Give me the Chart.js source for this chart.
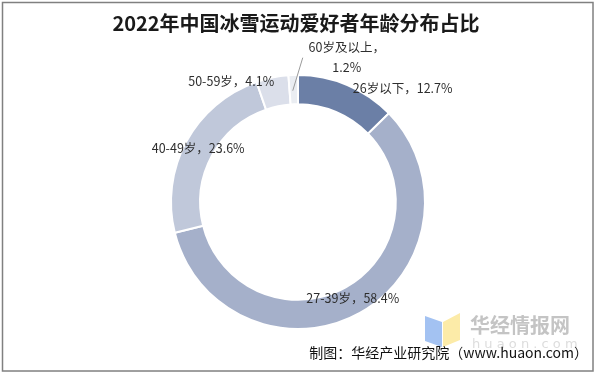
<!DOCTYPE html>
<html>
<head>
<meta charset="utf-8">
<script src="https://cdn.jsdelivr.net/npm/chart.js@4"></script>
<style>
html,body{margin:0;padding:0;background:#fff;}
#wrap{position:relative;width:595px;height:375px;}
</style>
</head>
<body>
<div id="wrap"><canvas id="c" width="595" height="375"></canvas></div>
<script>
const categories = ['26岁以下', '27-39岁', '40-49岁', '50-59岁', '60岁及以上'];
const shares = [12.7, 58.4, 23.6, 4.1, 1.2];
const colors = ['#6B7FA6', '#A5B0CA', '#C0C8DA', '#DBDFEA', '#EAEDF2'];
const titleText = '2022年中国冰雪运动爱好者年龄分布占比';
const sourceText = '制图：华经产业研究院（www.huaon.com）';

// label placement tweaks (pixel nudges from the default in-ring anchor)
const labelNudge = [[61, -10], [0, -2], [-1, 0], [-44, -11], [53, -32]];

const decor = {
  id: 'decor',
  afterDraw(chart) {
    const ctx = chart.ctx;
    const meta = chart.getDatasetMeta(0);
    ctx.save();
    // frame
    ctx.strokeStyle = '#808080';
    ctx.lineWidth = 1.5;
    ctx.strokeRect(2.5, 2.5, 590.5, 368.5);

    // title
    ctx.fillStyle = '#1a1a1a';
    ctx.textAlign = 'center';
    ctx.textBaseline = 'middle';
    ctx.font = 'bold 20px "Noto Sans CJK SC", sans-serif';
    ctx.fillText(titleText, 296, 23);

    // data labels
    ctx.font = '12.5px "Noto Sans CJK SC", sans-serif';
    ctx.fillStyle = '#2e2e2e';
    meta.data.forEach((arc, i) => {
      const p = arc.getProps(['x', 'y', 'startAngle', 'endAngle', 'innerRadius', 'outerRadius'], true);
      const mid = (p.startAngle + p.endAngle) / 2;
      const r = (p.innerRadius + p.outerRadius) / 2;
      const ax = p.x + Math.cos(mid) * r;
      const ay = p.y + Math.sin(mid) * r;
      const tx = ax + labelNudge[i][0];
      const ty = ay + labelNudge[i][1];
      const val = shares[i].toFixed(1) + '%';
      if (i === 4) {
        ctx.fillText(categories[i] + '，', tx, ty - 10);
        ctx.fillText(val, tx, ty + 10);
        // leader line
        ctx.strokeStyle = '#9a9a9a';
        ctx.lineWidth = 1;
        ctx.beginPath();
        ctx.moveTo(ax - 1, ay + 1);
        ctx.lineTo(tx - 44, ty);
        ctx.stroke();
      } else {
        ctx.fillText(categories[i] + '，' + val, tx, ty);
      }
    });

    // watermark
    ctx.fillStyle = '#A3C2F2';
    ctx.beginPath();
    ctx.moveTo(425, 316); ctx.lineTo(442, 322); ctx.lineTo(442, 347); ctx.lineTo(425, 341); ctx.closePath();
    ctx.fill();
    ctx.fillStyle = '#FCEBA8';
    ctx.beginPath();
    ctx.moveTo(443, 322); ctx.lineTo(460, 313); ctx.lineTo(460, 340); ctx.lineTo(443, 347); ctx.closePath();
    ctx.fill();
    ctx.fillStyle = '#C4C4C4';
    ctx.textAlign = 'left';
    ctx.font = 'bold 20px "Noto Sans CJK SC", sans-serif';
    ctx.fillText('华经情报网', 470, 325);
    ctx.fillStyle = '#DDDDDD';
    ctx.font = '13px "DejaVu Sans", sans-serif';
    ctx.fillText('h u a o n . c o m', 472, 345);

    // source
    ctx.fillStyle = '#111';
    ctx.textAlign = 'right';
    ctx.font = '14px "Noto Sans CJK SC", sans-serif';
    ctx.fillText(sourceText, 588, 353);
    ctx.restore();
  }
};

new Chart(document.getElementById('c'), {
  type: 'doughnut',
  data: {
    labels: categories,
    datasets: [{
      data: shares,
      backgroundColor: colors,
      borderColor: '#ffffff',
      borderWidth: 2,
      hoverOffset: 0
    }]
  },
  options: {
    responsive: false,
    animation: false,
    cutout: '77%',
    layout: { padding: { top: 74, bottom: 45, left: 170, right: 169 } },
    plugins: {
      legend: { display: false },
      tooltip: { enabled: false },
      title: { display: false }
    }
  },
  plugins: [decor]
});
</script>
</body>
</html>
